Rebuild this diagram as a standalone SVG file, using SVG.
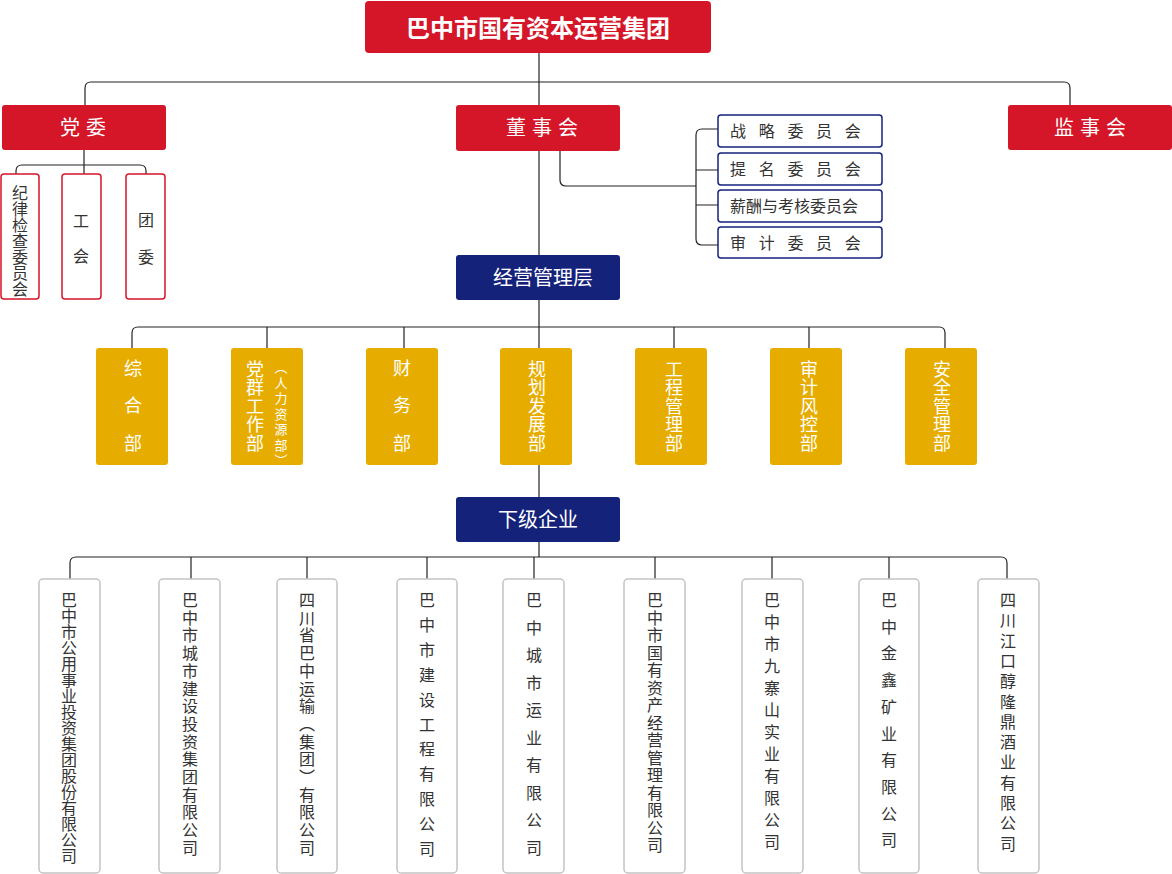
<svg xmlns="http://www.w3.org/2000/svg" width="1172" height="874" viewBox="0 0 1172 874">
<style>
text{font-family:"Noto Sans CJK SC","Noto Sans",sans-serif}
.red{fill:#d51528}
.blue{fill:#15227a}
.gold{fill:#e6ad00}
.wt{fill:#fff;font-size:20px}
.sub{fill:#fff;stroke:#d51528;stroke-width:1.5}
.com{fill:#fff;stroke:#15227a;stroke-width:1.5}
.co{fill:#fff;stroke:#c4c4c4;stroke-width:1.5}
.dk{fill:#333;font-size:16px}
.v{writing-mode:vertical-rl}
.dw{fill:#fff;font-size:18px}
.cn{fill:none;stroke:#222;stroke-width:1.2}
</style>
<g id="connectors" class="cn">
<path d="M539 53V105"/>
<path d="M85 105V88Q85 82 91 82H1064Q1070 82 1070 88V105"/>
<path d="M84 150V174"/>
<path d="M16 174V171Q16 165 22 165H140Q146 165 146 171V174"/>
<path d="M539 151V255"/>
<path d="M560 151V180Q560 186 566 186H696"/>
<path d="M718 129H702Q696 129 696 135V239Q696 245 702 245H718"/>
<path d="M696 170H718M696 205H718"/>
<path d="M539 300V348"/>
<path d="M132 348V333Q132 327 138 327H939Q945 327 945 333V348"/>
<path d="M267 327V348M404 327V348M674 327V348M809 327V348"/>
<path d="M539 465V497"/>
<path d="M539 542V557"/>
<path d="M70 579V563Q70 557 76 557H1001Q1007 557 1007 563V579"/>
<path d="M191 557V579M307 557V579M427 557V579M534 557V579M655 557V579M772 557V579M889 557V579"/>
</g>
<g id="group">
<rect class="red" x="365" y="1" width="346" height="52" rx="4"/>
<text x="538" y="37" text-anchor="middle" fill="#fff" font-size="24" font-weight="bold">巴中市国有资本运营集团</text>
</g>
<g id="dangwei">
<rect class="red" x="2" y="105" width="164" height="45" rx="3"/>
<text class="wt" x="86" y="135" text-anchor="middle" letter-spacing="6">党委</text>
</g>
<g id="dongshihui">
<rect class="red" x="456" y="105" width="164" height="46" rx="3"/>
<text class="wt" x="545" y="135" text-anchor="middle" letter-spacing="6">董事会</text>
</g>
<g id="jianshihui">
<rect class="red" x="1008" y="105" width="164" height="45" rx="3"/>
<text class="wt" x="1093" y="135" text-anchor="middle" letter-spacing="6">监事会</text>
</g>
<g id="jiwei">
<rect class="sub" x="1" y="174" width="38" height="125" rx="3"/>
<text class="dk v" x="20" y="185">纪律检查委员会</text>
</g>
<g id="gonghui">
<rect class="sub" x="62" y="174" width="39" height="125" rx="3"/>
<text class="dk v" x="81" y="213" letter-spacing="19">工会</text>
</g>
<g id="tuanwei">
<rect class="sub" x="126" y="174" width="39" height="125" rx="3"/>
<text class="dk v" x="146" y="212" letter-spacing="21">团委</text>
</g>
<g id="c1">
<rect class="com" x="718" y="115" width="164" height="32" rx="3"/>
<text class="dk" x="730" y="137" letter-spacing="12.7">战略委员会</text>
</g>
<g id="c2">
<rect class="com" x="718" y="153" width="164" height="32" rx="3"/>
<text class="dk" x="730" y="175" letter-spacing="12.7">提名委员会</text>
</g>
<g id="c3">
<rect class="com" x="718" y="190" width="164" height="32" rx="3"/>
<text class="dk" x="730" y="212">薪酬与考核委员会</text>
</g>
<g id="c4">
<rect class="com" x="718" y="227" width="164" height="31" rx="3"/>
<text class="dk" x="730" y="249" letter-spacing="12.7">审计委员会</text>
</g>
<g id="mgmt">
<rect class="blue" x="456" y="255" width="164" height="45" rx="3"/>
<text class="wt" x="543" y="285" text-anchor="middle">经营管理层</text>
</g>
<g id="d1">
<rect class="gold" x="96" y="348" width="72" height="117" rx="3"/>
<text class="dw v" x="133" y="359" letter-spacing="19.5">综合部</text>
</g>
<g id="d2">
<rect class="gold" x="231" y="348" width="72" height="117" rx="3"/>
<text class="dw v" x="255" y="360" letter-spacing="0.5">党群工作部</text>
<text class="v" x="281" y="361" fill="#fff" font-size="13" letter-spacing="2.5">（人力资源部）</text>
</g>
<g id="d3">
<rect class="gold" x="366" y="348" width="72" height="117" rx="3"/>
<text class="dw v" x="402" y="359" letter-spacing="19.5">财务部</text>
</g>
<g id="d4">
<rect class="gold" x="500" y="348" width="72" height="117" rx="3"/>
<text class="dw v" x="537" y="360" letter-spacing="0.5">规划发展部</text>
</g>
<g id="d5">
<rect class="gold" x="635" y="348" width="72" height="117" rx="3"/>
<text class="dw v" x="674" y="360" letter-spacing="0.5">工程管理部</text>
</g>
<g id="d6">
<rect class="gold" x="770" y="348" width="72" height="117" rx="3"/>
<text class="dw v" x="809" y="360" letter-spacing="0.5">审计风控部</text>
</g>
<g id="d7">
<rect class="gold" x="905" y="348" width="72" height="117" rx="3"/>
<text class="dw v" x="942" y="360" letter-spacing="0.5">安全管理部</text>
</g>
<g id="sub">
<rect class="blue" x="456" y="497" width="164" height="45" rx="3"/>
<text class="wt" x="538" y="527" text-anchor="middle">下级企业</text>
</g>
<g id="e1">
<rect class="co" x="39" y="579" width="61" height="294" rx="4"/>
<text class="dk v" x="69" y="592">巴中市公用事业投资集团股份有限公司</text>
</g>
<g id="e2">
<rect class="co" x="159" y="579" width="61" height="294" rx="4"/>
<text class="dk v" x="190" y="592" letter-spacing="1.7">巴中市城市建设投资集团有限公司</text>
</g>
<g id="e3">
<rect class="co" x="277" y="579" width="60" height="294" rx="4"/>
<text class="dk v" x="307" y="592" letter-spacing="1.7">四川省巴中运输（集团）有限公司</text>
</g>
<g id="e4">
<rect class="co" x="397" y="579" width="60" height="294" rx="4"/>
<text class="dk v" x="427" y="592" letter-spacing="8.9">巴中市建设工程有限公司</text>
</g>
<g id="e5">
<rect class="co" x="503" y="579" width="61" height="294" rx="4"/>
<text class="dk v" x="534" y="592" letter-spacing="11.5">巴中城市运业有限公司</text>
</g>
<g id="e6">
<rect class="co" x="624" y="579" width="61" height="294" rx="4"/>
<text class="dk v" x="655" y="592" letter-spacing="1.5">巴中市国有资产经营管理有限公司</text>
</g>
<g id="e7">
<rect class="co" x="742" y="579" width="61" height="294" rx="4"/>
<text class="dk v" x="772" y="592" letter-spacing="6">巴中市九寨山实业有限公司</text>
</g>
<g id="e8">
<rect class="co" x="859" y="579" width="60" height="294" rx="4"/>
<text class="dk v" x="889" y="592" letter-spacing="10.7">巴中金鑫矿业有限公司</text>
</g>
<g id="e9">
<rect class="co" x="978" y="579" width="61" height="294" rx="4"/>
<text class="dk v" x="1008" y="592" letter-spacing="4.3">四川江口醇隆鼎酒业有限公司</text>
</g>
</svg>
